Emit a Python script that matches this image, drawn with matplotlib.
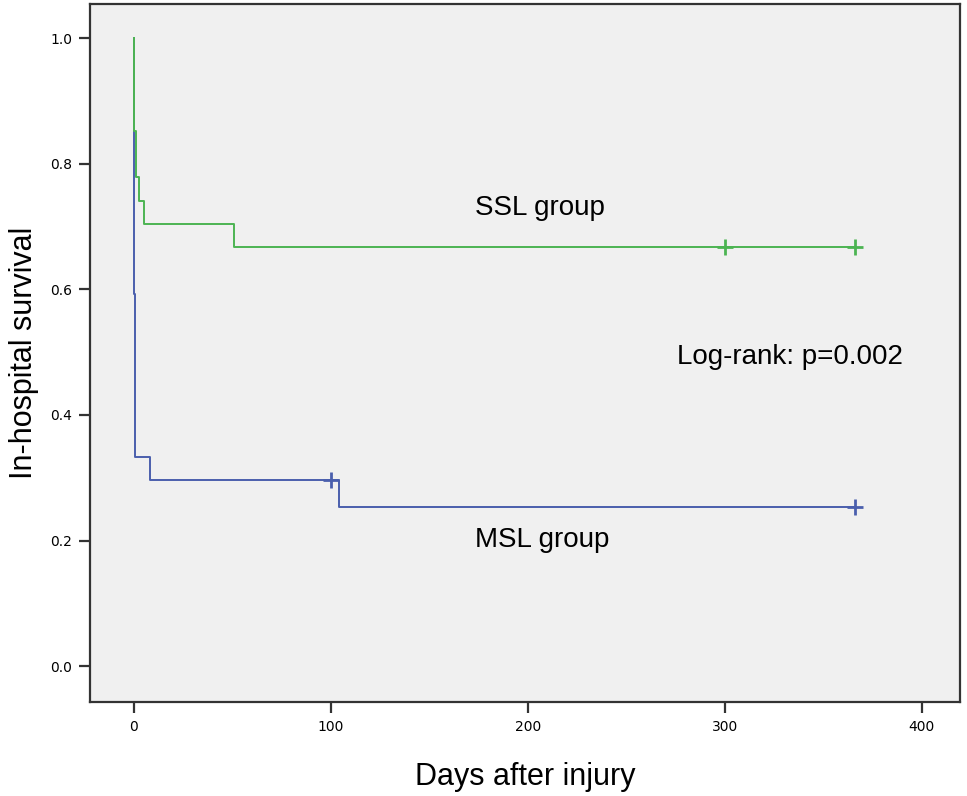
import matplotlib
matplotlib.use("Agg")
import matplotlib.pyplot as plt
from matplotlib import font_manager

# ---- data ----
ssl_times = [0, 0, 1, 2.5, 5, 51, 366]
ssl_surv = [1.0, 0.852, 0.778, 0.741, 0.704, 0.667, 0.667]
ssl_cens_t = [300, 366]
ssl_cens_s = [0.667, 0.667]

msl_times = [0, 0, 0.5, 8, 104, 366]
msl_surv = [1.0, 0.593, 0.333, 0.296, 0.254, 0.254]
msl_cens_t = [100, 366]
msl_cens_s = [0.296, 0.254]

x_ticks = [0, 100, 200, 300, 400]
y_ticks = [0.0, 0.2, 0.4, 0.6, 0.8, 1.0]

green = "#4cb452"
blue = "#4a5fad"

names = {f.name for f in font_manager.fontManager.ttflist}
narrow = "Liberation Sans Narrow" if "Liberation Sans Narrow" in names else "Liberation Sans"

fig = plt.figure(figsize=(9.67, 7.96), dpi=100)
ax = fig.add_axes([90/967, 1-702/796, (960-90)/967, (702-3.5)/796])
ax.set_facecolor("#f0f0f0")

ax.step(msl_times, msl_surv, where="post", color=blue, lw=1.4)
ax.step(ssl_times, ssl_surv, where="post", color=green, lw=1.4)
ax.plot(msl_cens_t, msl_cens_s, ls="none", marker="+", ms=11, mew=2, color=blue)
ax.plot(ssl_cens_t, ssl_cens_s, ls="none", marker="+", ms=11, mew=2, color=green)

ax.set_xlim(-22.3, 419.5)
ax.set_ylim(-0.057, 1.055)
ax.set_xticks(x_ticks)
ax.set_xticklabels([str(t) for t in x_ticks])
ax.set_yticks(y_ticks)
ax.set_yticklabels([f"{t:.1f}" for t in y_ticks])
ax.tick_params(direction="out", length=8, width=1.6, color="#333333",
               labelsize=10, pad=5)
for s in ax.spines.values():
    s.set_linewidth(1.6)
    s.set_color("#333333")

ax.set_ylabel("In-hospital survival", fontsize=22, family=narrow, labelpad=8)
ax.set_xlabel("Days after injury", fontsize=22, family=narrow, labelpad=20)

ax.text(206, 0.718, "SSL group", fontsize=20, family="Liberation Sans",
        ha="center", va="baseline")
ax.text(276, 0.481, "Log-rank: p=0.002", fontsize=20, family="Liberation Sans",
        ha="left", va="baseline")
ax.text(207.5, 0.190, "MSL group", fontsize=20, family="Liberation Sans",
        ha="center", va="baseline")

fig.savefig("out.png", dpi=100, facecolor="white")
